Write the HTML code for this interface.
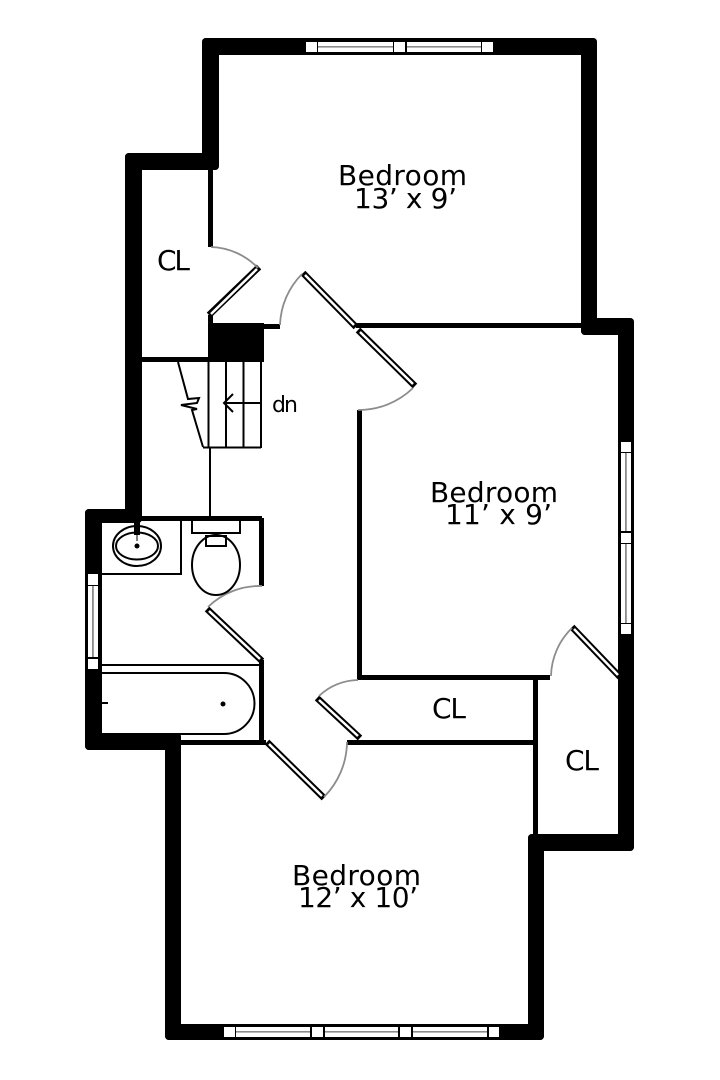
<!DOCTYPE html>
<html>
<head>
<meta charset="utf-8">
<title>Floor plan</title>
<style>
html,body{margin:0;padding:0;background:#fff;width:720px;height:1080px;overflow:hidden}
svg{display:block}
text{font-family:"DejaVu Sans",sans-serif;fill:#000;font-size:28px}
.pb{stroke:#000;stroke-width:6.5;fill:none}
.pw{stroke:#fff;stroke-width:2.5;fill:none}
.arc{stroke:#8c8c8c;stroke-width:1.8;fill:none}
.t{stroke:#000;stroke-width:2;fill:none}
.g{fill:#8c8c8c}
</style>
</head>
<body>
<svg width="720" height="1080" viewBox="0 0 720 1080" xmlns="http://www.w3.org/2000/svg">
<rect width="720" height="1080" fill="#fff"/>
<!-- outer walls -->
<g fill="#000">
<rect x="202" y="38" width="395" height="17" rx="4"/>
<rect x="202" y="38" width="17" height="132" rx="4"/>
<rect x="125" y="153" width="94" height="17" rx="4"/>
<rect x="125" y="153" width="17" height="367" rx="4"/>
<rect x="85" y="509" width="57" height="14" rx="4"/>
<rect x="85" y="509" width="17" height="241" rx="4"/>
<rect x="85" y="733" width="96" height="17" rx="4"/>
<rect x="165" y="733" width="16" height="307" rx="4"/>
<rect x="165" y="1024" width="379" height="16" rx="4"/>
<rect x="528" y="834" width="16" height="206" rx="4"/>
<rect x="528" y="834" width="106" height="17" rx="4"/>
<rect x="618" y="318" width="16" height="533" rx="4"/>
<rect x="581" y="318" width="53" height="17" rx="4"/>
<rect x="581" y="38" width="16" height="297" rx="4"/>
<!-- inner walls -->
<rect x="208" y="170" width="5" height="77"/>
<rect x="142" y="357" width="70" height="5"/>
<rect x="208" y="323" width="56" height="39"/>
<rect x="208" y="315" width="5" height="10"/>
<rect x="213" y="324" width="67" height="5"/>
<rect x="356" y="323" width="225" height="5"/>
<rect x="357" y="410" width="5" height="270"/>
<rect x="357" y="675" width="193" height="5"/>
<rect x="533" y="675" width="5" height="159"/>
<rect x="347" y="740" width="188" height="5"/>
<rect x="180" y="740" width="86" height="5"/>
<rect x="259" y="660" width="5" height="85"/>
<rect x="102" y="516" width="160" height="5"/>
<rect x="259" y="518" width="5" height="68"/>
</g>
<!-- windows -->
<g fill="#fff">
<rect x="306" y="42" width="11" height="10"/><rect x="318" y="42" width="75" height="10"/><rect x="394" y="42" width="11" height="10"/><rect x="407" y="42" width="74" height="10"/><rect x="482" y="42" width="11" height="10"/>
<rect x="224" y="1027" width="11" height="10"/><rect x="236" y="1027" width="74" height="10"/><rect x="312" y="1027" width="11" height="10"/><rect x="325" y="1027" width="73" height="10"/><rect x="400" y="1027" width="11" height="10"/><rect x="413" y="1027" width="74" height="10"/><rect x="489" y="1027" width="10" height="10"/>
<rect x="621" y="442" width="10" height="10"/><rect x="621" y="453" width="10" height="78"/><rect x="621" y="533" width="10" height="10"/><rect x="621" y="544" width="10" height="79"/><rect x="621" y="624" width="10" height="10"/>
<rect x="88" y="574" width="10" height="11"/><rect x="88" y="586" width="10" height="71"/><rect x="88" y="659" width="10" height="10"/>
</g>
<g class="g">
<rect x="318" y="46" width="75" height="1.6"/><rect x="407" y="46" width="74" height="1.6"/>
<rect x="236" y="1031" width="74" height="1.6"/><rect x="325" y="1031" width="73" height="1.6"/><rect x="413" y="1031" width="74" height="1.6"/>
<rect x="625" y="453" width="1.8" height="78"/><rect x="625" y="544" width="1.8" height="79"/>
<rect x="92" y="586" width="1.8" height="71"/>
</g>
<!-- door panels -->
<path class="pb" d="M209 315L259 267M303 273L356 327M358 330L415 386M207 609L262 661M317 698L360 738M267 742L324 798M572 627L620 677"/>
<path class="pw" d="M211 314L257 269M305 275L354 325M360 332L413 384M209 611L260 659M319 700L358 736M269 744L322 796M574 629L618 675"/>
<!-- door swings -->
<path class="arc" d="M211 247A68 68 0 0 1 258 268"/>
<path class="arc" d="M280 325A76 76 0 0 1 302 274"/>
<path class="arc" d="M358 410A78 78 0 0 0 413 388"/>
<path class="arc" d="M262 586A74 74 0 0 0 208 607"/>
<path class="arc" d="M358 680A58 58 0 0 0 319 696"/>
<path class="arc" d="M347 742A79 79 0 0 1 324 797"/>
<path class="arc" d="M551 676A69 69 0 0 1 572 628"/>
<!-- stairs -->
<path class="t" d="M208.500 360V448M226 360V448M243.500 360V448M261 360V448M203 447.500H261M210 448V516M224 403H261M233 394L224 403L233 412"/>
<path class="t" d="M178 362L188 399L199 398L197 403L181 405L197 409L192 410L203 447"/>
<!-- fixtures -->
<path class="t" d="M102 574H181V520M102 665H260M102 673H224A30.500 30.500 0 0 1 224 734H102M102 703H108"/>
<circle cx="223" cy="704" r="2.500"/>
<ellipse class="t" cx="137" cy="546" rx="24" ry="20"/>
<ellipse class="t" cx="137" cy="546" rx="21" ry="13.500"/>
<rect x="134" y="521" width="6" height="14"/>
<rect x="136.500" y="534" width="1" height="7"/>
<circle cx="137" cy="546" r="2.500"/>
<rect class="t" x="192" y="520" width="48" height="13"/>
<rect class="t" x="206" y="536" width="20" height="10"/>
<ellipse class="t" cx="216" cy="565" rx="24" ry="30"/>
<!-- labels -->
<text x="338" y="185" textLength="129" lengthAdjust="spacing">Bedroom</text>
<text x="354" y="208" textLength="103" lengthAdjust="spacing">13’ x 9’</text>
<text x="430" y="502" textLength="128" lengthAdjust="spacing">Bedroom</text>
<text x="445" y="524" textLength="107" lengthAdjust="spacing">11’ x 9’</text>
<text x="292" y="885" textLength="129" lengthAdjust="spacing">Bedroom</text>
<text x="298" y="907" textLength="120" lengthAdjust="spacing">12’ x 10’</text>
<text x="157" y="270" textLength="33" lengthAdjust="spacing">CL</text>
<text x="432" y="718" textLength="34" lengthAdjust="spacing">CL</text>
<text x="565" y="770" textLength="34" lengthAdjust="spacing">CL</text>
<text x="272" y="412" textLength="26" lengthAdjust="spacing" style="font-size:22px">dn</text>
</svg>
</body>
</html>
